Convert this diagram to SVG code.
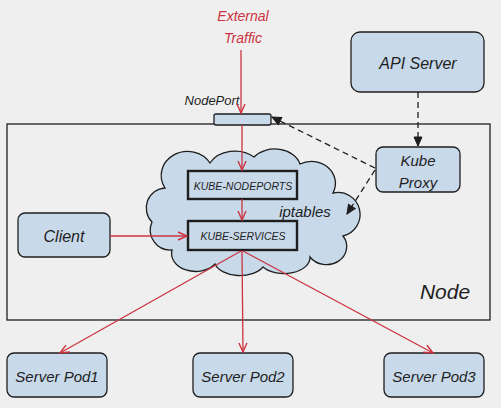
<svg xmlns="http://www.w3.org/2000/svg" width="501" height="408" viewBox="0 0 501 408">
<defs>
<style>
.box{fill:#c8d9ea;stroke:#1e1e1e;stroke-width:1.3}
.ipt{fill:#c8d9ea;stroke:#1e1e1e;stroke-width:2.4}
.t{font-family:"Liberation Sans",Arial,sans-serif;font-style:italic;fill:#1e1e1e;text-anchor:middle}
.red{stroke:#cc3340;stroke-width:1.3;fill:none}
.dash{stroke:#1e1e1e;stroke-width:1.3;fill:none;stroke-dasharray:6 4}
</style>
<marker id="ar" markerUnits="userSpaceOnUse" markerWidth="12" markerHeight="12" refX="10" refY="5" orient="auto">
<path d="M1,1 L10,5 L1,9" fill="none" stroke="#cc3340" stroke-width="1.4"/>
</marker>
<marker id="ak" markerUnits="userSpaceOnUse" markerWidth="12" markerHeight="12" refX="10" refY="5" orient="auto">
<path d="M1,1 L10,5 L1,9 Z" fill="#1e1e1e" stroke="#1e1e1e" stroke-width="1"/>
</marker>
</defs>
<rect width="501" height="408" fill="#efefef"/>

<g id="node-frame">
<rect x="7" y="124" width="483" height="196" fill="none" stroke="#1e1e1e" stroke-width="1.3"/>
<text class="t" x="445" y="299" font-size="21">Node</text>
</g>

<g id="external-traffic">
<text class="t" x="243" y="21" font-size="14" fill="#cc3340" style="fill:#cc3340">External</text>
<text class="t" x="243" y="43" font-size="14" style="fill:#cc3340">Traffic</text>
</g>

<g id="nodeport">
<rect class="box" x="214" y="114" width="57" height="11" rx="2"/>
<text class="t" x="212" y="105" font-size="13">NodePort</text>
</g>

<g id="api-server">
<rect class="box" x="351" y="32" width="133" height="60" rx="9"/>
<text class="t" x="418" y="69" font-size="16">API Server</text>
</g>

<g id="kube-proxy">
<rect class="box" x="376" y="147" width="84" height="45" rx="7"/>
<text class="t" x="418" y="166" font-size="15">Kube</text>
<text class="t" x="418" y="188" font-size="15">Proxy</text>
</g>

<g id="iptables">
<path class="box" d="M165,188 A24,22 0 0 1 210,163 A28,22 0 0 1 254,157 A26,20 0 0 1 300,164 A24,22 0 0 1 333,193 A22,22 0 0 1 343,236 A20,18 0 0 1 310,257 A26,16 0 0 1 263,267 A26,16 0 0 1 215,264 A24,18 0 0 1 172,250 A20,20 0 0 1 152,222 A20,20 0 0 1 165,188 Z"/>
<text class="t" x="305" y="217" font-size="15">iptables</text>
</g>

<g id="kube-nodeports">
<rect class="ipt" x="188" y="171" width="109" height="28"/>
<text class="t" x="243" y="190" font-size="10.5">KUBE-NODEPORTS</text>
</g>

<g id="kube-services">
<rect class="ipt" x="188" y="221" width="109" height="29"/>
<text class="t" x="243" y="240" font-size="10.5">KUBE-SERVICES</text>
</g>

<g id="client">
<rect class="box" x="18" y="213" width="92" height="44" rx="7"/>
<text class="t" x="64" y="242" font-size="16">Client</text>
</g>

<g id="server-pod1">
<rect class="box" x="7" y="353" width="100" height="44" rx="7"/>
<text class="t" x="57" y="382" font-size="15">Server Pod1</text>
</g>
<g id="server-pod2">
<rect class="box" x="193" y="353" width="100" height="44" rx="7"/>
<text class="t" x="243" y="382" font-size="15">Server Pod2</text>
</g>
<g id="server-pod3">
<rect class="box" x="384" y="353" width="100" height="44" rx="7"/>
<text class="t" x="434" y="382" font-size="15">Server Pod3</text>
</g>

<g id="connectors">
<line class="red" x1="241" y1="50" x2="241" y2="113" marker-end="url(#ar)"/>
<line class="red" x1="242" y1="125" x2="242" y2="170" marker-end="url(#ar)"/>
<line class="red" x1="242" y1="199" x2="242" y2="220" marker-end="url(#ar)"/>
<line class="red" x1="110" y1="236" x2="187" y2="236" marker-end="url(#ar)"/>
<line class="red" x1="241" y1="251" x2="60" y2="353" marker-end="url(#ar)"/>
<line class="red" x1="242" y1="251" x2="243" y2="352" marker-end="url(#ar)"/>
<line class="red" x1="243" y1="251" x2="433" y2="353" marker-end="url(#ar)"/>
<line class="dash" x1="418" y1="92" x2="418" y2="146" marker-end="url(#ak)"/>
<line class="dash" x1="375" y1="168" x2="272" y2="117" marker-end="url(#ak)"/>
<line class="dash" x1="375" y1="170" x2="347" y2="214" marker-end="url(#ak)"/>
</g>
</svg>
